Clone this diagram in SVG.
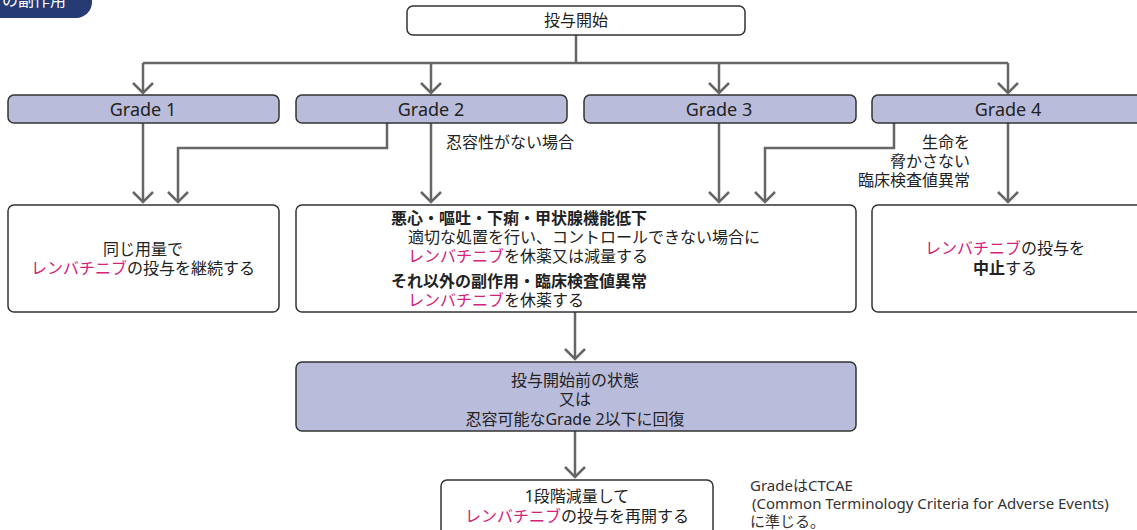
<svg xmlns="http://www.w3.org/2000/svg" width="1137" height="530" viewBox="0 0 1137 530">
<defs>
<style>
.t{font-family:"Noto Sans","Noto Sans CJK JP",sans-serif;font-size:16px;fill:#222}
.c{text-anchor:middle}
.r{text-anchor:end}
.b{font-weight:bold}
.p{fill:#d4237a}
.gt{font-size:18px}
.box{fill:#fff;stroke:#333;stroke-width:1.5}
.g{fill:#babcdc;stroke:#333;stroke-width:1.5}
.ln{fill:none;stroke:#666;stroke-width:2.5}
.fn{font-family:"Noto Sans","Noto Sans CJK JP",sans-serif;font-size:15px;fill:#333}
</style>
<marker id="ah" viewBox="-2 -2 14 24" refX="10" refY="10" markerWidth="14" markerHeight="24" markerUnits="userSpaceOnUse" orient="auto">
<path d="M0,0 L10,10 L0,20" fill="none" stroke="#666" stroke-width="2.5"/>
</marker>
</defs>
<g id="tab">
<path d="M0,0 H92 V2 A16,16 0 0 1 76,18 H0 Z" fill="#263a73"/>
<text x="2" y="6" style="font-family:'Noto Sans CJK JP',sans-serif;font-size:16px;fill:#fff">の副作用</text>
</g>
<g id="connectors">
<path class="ln" d="M576,35 V63 M143,63 H1008"/>
<path class="ln" d="M143,63 V93" marker-end="url(#ah)"/>
<path class="ln" d="M431,63 V93" marker-end="url(#ah)"/>
<path class="ln" d="M719,63 V93" marker-end="url(#ah)"/>
<path class="ln" d="M1008,63 V93" marker-end="url(#ah)"/>
<path class="ln" d="M143,123 V202" marker-end="url(#ah)"/>
<path class="ln" d="M387,123 V148 H178 V202" marker-end="url(#ah)"/>
<path class="ln" d="M431,123 V202" marker-end="url(#ah)"/>
<path class="ln" d="M719,123 V202" marker-end="url(#ah)"/>
<path class="ln" d="M894,123 V148 H765 V202" marker-end="url(#ah)"/>
<path class="ln" d="M1008,123 V202" marker-end="url(#ah)"/>
<path class="ln" d="M575,312 V359" marker-end="url(#ah)"/>
<path class="ln" d="M575,431 V477" marker-end="url(#ah)"/>
<text class="t" x="446" y="148">忍容性がない場合</text>
<text class="t r" x="970" y="148">生命を</text>
<text class="t r" x="970" y="167">脅かさない</text>
<text class="t r" x="970" y="186">臨床検査値異常</text>
</g>
<g id="start">
<rect class="box" x="407" y="6" width="338" height="29" rx="6"/>
<text class="t c" x="576" y="26">投与開始</text>
</g>
<g id="grade1">
<rect class="g" x="8" y="95" width="271" height="28" rx="6"/>
<text class="t c gt" x="143" y="116">Grade 1</text>
</g>
<g id="grade2">
<rect class="g" x="296" y="95" width="271" height="28" rx="6"/>
<text class="t c gt" x="431" y="116">Grade 2</text>
</g>
<g id="grade3">
<rect class="g" x="584" y="95" width="272" height="28" rx="6"/>
<text class="t c gt" x="719" y="116">Grade 3</text>
</g>
<g id="grade4">
<rect class="g" x="872" y="95" width="272" height="28" rx="6"/>
<text class="t c gt" x="1008" y="116">Grade 4</text>
</g>
<g id="continue">
<rect class="box" x="8" y="205" width="271" height="107" rx="6"/>
<text class="t c" x="143" y="255">同じ用量で</text>
<text class="t c" x="143" y="274"><tspan class="p">レンバチニブ</tspan>の投与を継続する</text>
</g>
<g id="suspend">
<rect class="box" x="296" y="205" width="560" height="107" rx="6"/>
<text class="t b" x="391" y="224">悪心・嘔吐・下痢・甲状腺機能低下</text>
<text class="t" x="408" y="243">適切な処置を行い、コントロールできない場合に</text>
<text class="t" x="408" y="262"><tspan class="p">レンバチニブ</tspan>を休薬又は減量する</text>
<text class="t b" x="391" y="287">それ以外の副作用・臨床検査値異常</text>
<text class="t" x="408" y="306"><tspan class="p">レンバチニブ</tspan>を休薬する</text>
</g>
<g id="stop">
<rect class="box" x="872" y="205" width="272" height="107" rx="6"/>
<text class="t c" x="1005" y="254"><tspan class="p">レンバチニブ</tspan>の投与を</text>
<text class="t c" x="1005" y="274"><tspan class="b">中止</tspan>する</text>
</g>
<g id="recover">
<rect class="g" x="296" y="362" width="560" height="69" rx="6"/>
<text class="t c" x="575" y="386">投与開始前の状態</text>
<text class="t c" x="575" y="405">又は</text>
<text class="t c" x="575" y="425">忍容可能なGrade 2以下に回復</text>
</g>
<g id="resume">
<rect class="box" x="441" y="480" width="272" height="60" rx="6"/>
<text class="t c" x="577" y="502">1段階減量して</text>
<text class="t c" x="577" y="522"><tspan class="p">レンバチニブ</tspan>の投与を再開する</text>
</g>
<g id="note">
<text class="fn" x="750" y="491">GradeはCTCAE</text>
<text class="fn" x="752" y="509">(Common Terminology Criteria for Adverse Events)</text>
<text class="fn" x="750" y="527">に準じる。</text>
</g>
</svg>
